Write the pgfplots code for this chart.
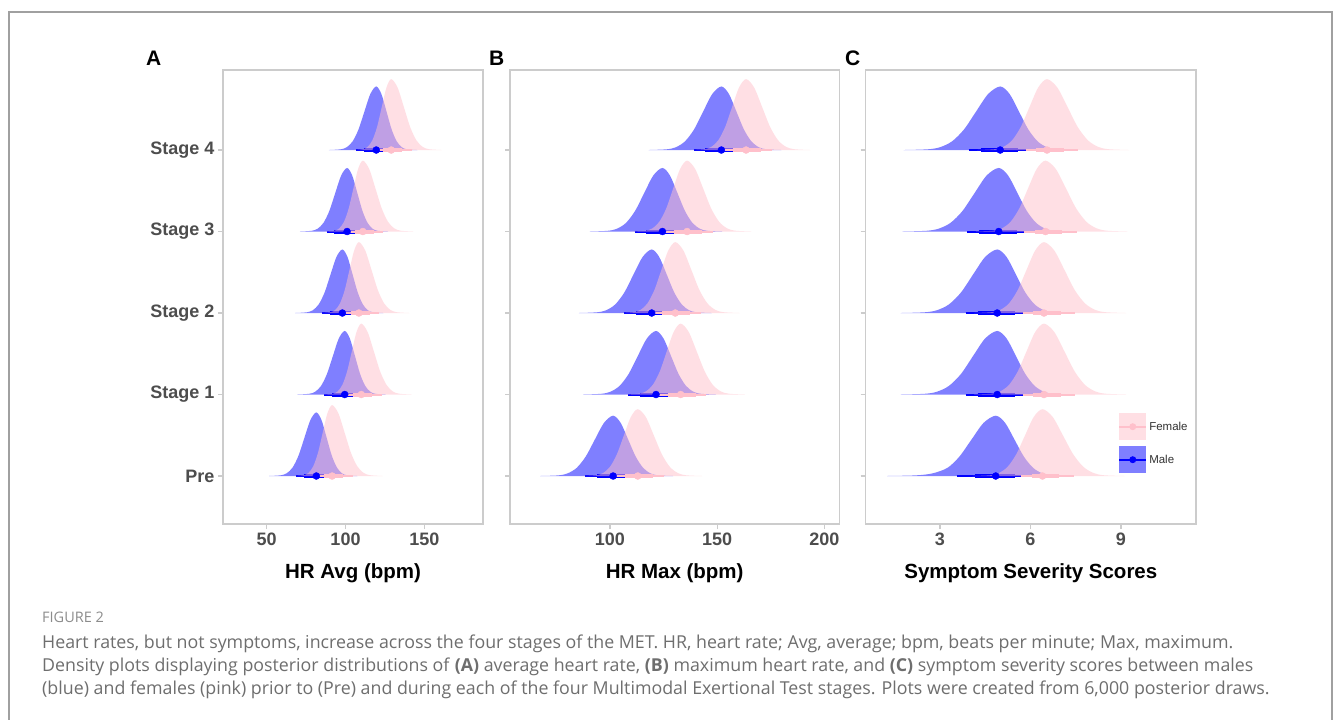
\documentclass[border=0pt]{standalone}
\usepackage{pgfplots}
\pgfplotsset{compat=1.18}
\usepackage{fontspec}
\setmainfont{Liberation Sans}
\newfontfamily\capfont{Open Sans}

\definecolor{femc}{RGB}{255,192,203}
\definecolor{axgray}{RGB}{204,204,204}
\definecolor{labgray}{RGB}{77,77,77}
\definecolor{framegray}{RGB}{160,160,160}
\definecolor{capgray}{RGB}{110,110,110}
\definecolor{figgray}{RGB}{140,140,140}

\pgfplotsset{
  ridge/.style={
    scale only axis, height=454pt,
    ymin=0.411, ymax=5.982,
    ytick={1,2,3,4,5},
    tick align=outside, xtick pos=bottom, ytick pos=left,
    major tick length=5pt,
    axis line style={draw=axgray, line width=1.5pt},
    major tick style={draw=axgray, line width=1.2pt},
    /pgf/number format/assume math mode=true,
    ticklabel style={font=\fontsize{18}{20}\selectfont\bfseries, text=labgray},
    xlabel style={font=\fontsize{20.5}{22}\selectfont\bfseries, text=black,
      at={(axis description cs:0.5,-0.108)}, anchor=center},
  },
  mslab/.style={draw=none, fill=blue, fill opacity=0.5, smooth, tension=0.5, forget plot},
  fslab/.style={draw=none, fill=femc, fill opacity=0.5, smooth, tension=0.5, forget plot},
  mthin/.style={blue, line width=2pt, forget plot},
  mthick/.style={blue, line width=4pt, forget plot},
  mdot/.style={only marks, mark=*, mark size=3.5pt, blue, forget plot},
  fthin/.style={femc, line width=2pt, forget plot},
  fthick/.style={femc, line width=4pt, forget plot},
  fdot/.style={only marks, mark=*, mark size=3.5pt, femc, forget plot},
}

\begin{document}
\begin{tikzpicture}
\useasboundingbox[fill=white] (0pt,0pt) rectangle (1333pt,-720pt);
\draw[framegray, line width=1.5pt] (9pt,-730pt) -- (9pt,-12pt) -- (1332pt,-12pt) -- (1332pt,-730pt);

% ---------------- A: HR Avg
\begin{axis}[ridge, at={(223pt,-524pt)}, anchor=south west, width=260pt,
  xmin=22.3, xmax=187.2, xtick={50,100,150},
  yticklabels={Pre,Stage 1,Stage 2,Stage 3,Stage 4},
  xlabel={HR Avg (bpm)}]
% Stage 4
\addplot[mslab] coordinates {(89.5,5) (97,5.009) (100.75,5.034) (104.5,5.106) (108.25,5.253) (112,5.473) (115.75,5.688) (119.5,5.78) (122.75,5.688) (126,5.473) (129.25,5.253) (132.5,5.106) (135.75,5.034) (139,5.009) (145.5,5)} -- cycle;
\addplot[mthin] coordinates {(106.5,5) (130.5,5)};
\addplot[mthick] coordinates {(111.5,5) (125.5,5)};
\addplot[mdot] coordinates {(119.5,5)};
\addplot[fslab] coordinates {(105,5) (111,5.010) (114,5.038) (117,5.118) (120,5.282) (123,5.528) (126,5.768) (129,5.87) (133,5.768) (137,5.528) (141,5.282) (145,5.118) (149,5.038) (153,5.010) (161,5)} -- cycle;
\addplot[fthin] coordinates {(119,5) (142,5)};
\addplot[fthick] coordinates {(124,5) (136,5)};
\addplot[fdot] coordinates {(129,5)};
% Stage 3
\addplot[mslab] coordinates {(71,4) (78.5,4.009) (82.25,4.034) (86,4.106) (89.75,4.253) (93.5,4.473) (97.25,4.688) (101,4.78) (104.25,4.688) (107.5,4.473) (110.75,4.253) (114,4.106) (117.25,4.034) (120.5,4.009) (127,4)} -- cycle;
\addplot[mthin] coordinates {(88,4) (112,4)};
\addplot[mthick] coordinates {(93,4) (107,4)};
\addplot[mdot] coordinates {(101,4)};
\addplot[fslab] coordinates {(87,4) (93,4.010) (96,4.038) (99,4.118) (102,4.282) (105,4.528) (108,4.768) (111,4.87) (115,4.768) (119,4.528) (123,4.282) (127,4.118) (131,4.038) (135,4.010) (143,4)} -- cycle;
\addplot[fthin] coordinates {(101,4) (124,4)};
\addplot[fthick] coordinates {(106,4) (118,4)};
\addplot[fdot] coordinates {(111,4)};
% Stage 2
\addplot[mslab] coordinates {(68,3) (75.5,3.009) (79.25,3.034) (83,3.106) (86.75,3.253) (90.5,3.473) (94.25,3.688) (98,3.78) (101.25,3.688) (104.5,3.473) (107.75,3.253) (111,3.106) (114.25,3.034) (117.5,3.009) (124,3)} -- cycle;
\addplot[mthin] coordinates {(85,3) (109,3)};
\addplot[mthick] coordinates {(90,3) (104,3)};
\addplot[mdot] coordinates {(98,3)};
\addplot[fslab] coordinates {(84.5,3) (90.5,3.010) (93.5,3.038) (96.5,3.118) (99.5,3.282) (102.5,3.528) (105.5,3.768) (108.5,3.87) (112.5,3.768) (116.5,3.528) (120.5,3.282) (124.5,3.118) (128.5,3.038) (132.5,3.010) (140.5,3)} -- cycle;
\addplot[fthin] coordinates {(98.5,3) (121.5,3)};
\addplot[fthick] coordinates {(103.5,3) (115.5,3)};
\addplot[fdot] coordinates {(108.5,3)};
% Stage 1
\addplot[mslab] coordinates {(69.5,2) (77,2.009) (80.75,2.034) (84.5,2.106) (88.25,2.253) (92,2.473) (95.75,2.688) (99.5,2.78) (102.75,2.688) (106,2.473) (109.25,2.253) (112.5,2.106) (115.75,2.034) (119,2.009) (125.5,2)} -- cycle;
\addplot[mthin] coordinates {(86.5,2) (110.5,2)};
\addplot[mthick] coordinates {(91.5,2) (105.5,2)};
\addplot[mdot] coordinates {(99.5,2)};
\addplot[fslab] coordinates {(86,2) (92,2.010) (95,2.038) (98,2.118) (101,2.282) (104,2.528) (107,2.768) (110,2.87) (114,2.768) (118,2.528) (122,2.282) (126,2.118) (130,2.038) (134,2.010) (142,2)} -- cycle;
\addplot[fthin] coordinates {(100,2) (123,2)};
\addplot[fthick] coordinates {(105,2) (117,2)};
\addplot[fdot] coordinates {(110,2)};
% Pre
\addplot[mslab] coordinates {(51.5,1) (59,1.009) (62.75,1.034) (66.5,1.106) (70.25,1.253) (74,1.473) (77.75,1.688) (81.5,1.78) (84.75,1.688) (88,1.473) (91.25,1.253) (94.5,1.106) (97.75,1.034) (101,1.009) (107.5,1)} -- cycle;
\addplot[mthin] coordinates {(68.5,1) (92.5,1)};
\addplot[mthick] coordinates {(73.5,1) (87.5,1)};
\addplot[mdot] coordinates {(81.5,1)};
\addplot[fslab] coordinates {(67.5,1) (73.5,1.010) (76.5,1.038) (79.5,1.118) (82.5,1.282) (85.5,1.528) (88.5,1.768) (91.5,1.87) (95.5,1.768) (99.5,1.528) (103.5,1.282) (107.5,1.118) (111.5,1.038) (115.5,1.010) (123.5,1)} -- cycle;
\addplot[fthin] coordinates {(81.5,1) (104.5,1)};
\addplot[fthick] coordinates {(86.5,1) (98.5,1)};
\addplot[fdot] coordinates {(91.5,1)};
\end{axis}

% ---------------- B: HR Max
\begin{axis}[ridge, at={(510pt,-524pt)}, anchor=south west, width=329.3pt,
  xmin=53.4, xmax=207, xtick={100,150,200}, yticklabels={},
  xlabel={HR Max (bpm)}]
% Stage 4
\addplot[mslab] coordinates {(118,5) (126.5,5.009) (130.75,5.034) (135,5.106) (139.25,5.253) (143.5,5.473) (147.75,5.688) (152,5.78) (155.5,5.688) (159,5.473) (162.5,5.253) (166,5.106) (169.5,5.034) (173,5.009) (180,5)} -- cycle;
\addplot[mthin] coordinates {(139,5) (164,5)};
\addplot[mthick] coordinates {(144.5,5) (159,5)};
\addplot[mdot] coordinates {(152,5)};
\addplot[fslab] coordinates {(137.5,5) (144,5.010) (147.25,5.038) (150.5,5.118) (153.75,5.282) (157,5.528) (160.25,5.768) (163.5,5.87) (167.25,5.768) (171,5.528) (174.75,5.282) (178.5,5.118) (182.25,5.038) (186,5.010) (193.5,5)} -- cycle;
\addplot[fthin] coordinates {(152.5,5) (175.5,5)};
\addplot[fthick] coordinates {(157.5,5) (170.5,5)};
\addplot[fdot] coordinates {(163.5,5)};
% Stage 3
\addplot[mslab] coordinates {(90.5,4) (99,4.009) (103.25,4.034) (107.5,4.106) (111.75,4.253) (116,4.473) (120.25,4.688) (124.5,4.78) (128,4.688) (131.5,4.473) (135,4.253) (138.5,4.106) (142,4.034) (145.5,4.009) (152.5,4)} -- cycle;
\addplot[mthin] coordinates {(111.5,4) (136.5,4)};
\addplot[mthick] coordinates {(117,4) (131.5,4)};
\addplot[mdot] coordinates {(124.5,4)};
\addplot[fslab] coordinates {(110,4) (116.5,4.010) (119.75,4.038) (123,4.118) (126.25,4.282) (129.5,4.528) (132.75,4.768) (136,4.87) (139.75,4.768) (143.5,4.528) (147.25,4.282) (151,4.118) (154.75,4.038) (158.5,4.010) (166,4)} -- cycle;
\addplot[fthin] coordinates {(125,4) (148,4)};
\addplot[fthick] coordinates {(130,4) (143,4)};
\addplot[fdot] coordinates {(136,4)};
% Stage 2
\addplot[mslab] coordinates {(85.5,3) (94,3.009) (98.25,3.034) (102.5,3.106) (106.75,3.253) (111,3.473) (115.25,3.688) (119.5,3.78) (123,3.688) (126.5,3.473) (130,3.253) (133.5,3.106) (137,3.034) (140.5,3.009) (147.5,3)} -- cycle;
\addplot[mthin] coordinates {(106.5,3) (131.5,3)};
\addplot[mthick] coordinates {(112,3) (126.5,3)};
\addplot[mdot] coordinates {(119.5,3)};
\addplot[fslab] coordinates {(104.5,3) (111,3.010) (114.25,3.038) (117.5,3.118) (120.75,3.282) (124,3.528) (127.25,3.768) (130.5,3.87) (134.25,3.768) (138,3.528) (141.75,3.282) (145.5,3.118) (149.25,3.038) (153,3.010) (160.5,3)} -- cycle;
\addplot[fthin] coordinates {(119.5,3) (142.5,3)};
\addplot[fthick] coordinates {(124.5,3) (137.5,3)};
\addplot[fdot] coordinates {(130.5,3)};
% Stage 1
\addplot[mslab] coordinates {(87.5,2) (96,2.009) (100.25,2.034) (104.5,2.106) (108.75,2.253) (113,2.473) (117.25,2.688) (121.5,2.78) (125,2.688) (128.5,2.473) (132,2.253) (135.5,2.106) (139,2.034) (142.5,2.009) (149.5,2)} -- cycle;
\addplot[mthin] coordinates {(108.5,2) (133.5,2)};
\addplot[mthick] coordinates {(114,2) (128.5,2)};
\addplot[mdot] coordinates {(121.5,2)};
\addplot[fslab] coordinates {(107,2) (113.5,2.010) (116.75,2.038) (120,2.118) (123.25,2.282) (126.5,2.528) (129.75,2.768) (133,2.87) (136.75,2.768) (140.5,2.528) (144.25,2.282) (148,2.118) (151.75,2.038) (155.5,2.010) (163,2)} -- cycle;
\addplot[fthin] coordinates {(122,2) (145,2)};
\addplot[fthick] coordinates {(127,2) (140,2)};
\addplot[fdot] coordinates {(133,2)};
% Pre
\addplot[mslab] coordinates {(67.5,1) (76,1.008) (80.25,1.032) (84.5,1.100) (88.75,1.240) (93,1.449) (97.25,1.653) (101.5,1.74) (105,1.653) (108.5,1.449) (112,1.240) (115.5,1.100) (119,1.032) (122.5,1.008) (129.5,1)} -- cycle;
\addplot[mthin] coordinates {(88.5,1) (113.5,1)};
\addplot[mthick] coordinates {(94,1) (108.5,1)};
\addplot[mdot] coordinates {(101.5,1)};
\addplot[fslab] coordinates {(87,1) (93.5,1.009) (96.75,1.036) (100,1.111) (103.25,1.266) (106.5,1.497) (109.75,1.724) (113,1.82) (116.75,1.724) (120.5,1.497) (124.25,1.266) (128,1.111) (131.75,1.036) (135.5,1.009) (143,1)} -- cycle;
\addplot[fthin] coordinates {(102,1) (125,1)};
\addplot[fthick] coordinates {(107,1) (120,1)};
\addplot[fdot] coordinates {(113,1)};
\end{axis}

% ---------------- C: Symptom severity
\begin{axis}[ridge, at={(865.7pt,-524pt)}, anchor=south west, width=330.3pt,
  xmin=0.54, xmax=11.49, xtick={3,6,9}, yticklabels={},
  xlabel={Symptom Severity Scores},
  legend style={at={(0.764,0.2445)}, anchor=north west, draw=none, fill=none,
    inner sep=0pt, row sep=6pt, font=\fontsize{11.5}{13}\selectfont,
    text=black!80, nodes={inner sep=2pt}},
  legend cell align=left]
\addlegendimage{legend image code/.code={
  \path[draw=none, fill=femc, fill opacity=0.5] (0pt,-13.5pt) rectangle (27pt,13.5pt);
  \path[draw=femc, line width=2pt] (0pt,0pt) -- (27pt,0pt);
  \path[draw=none, fill=femc] (13.5pt,0pt) circle (3.5pt);}}
\addlegendentry{Female}
\addlegendimage{legend image code/.code={
  \path[draw=none, fill=blue, fill opacity=0.5] (0pt,-13.5pt) rectangle (27pt,13.5pt);
  \path[draw=blue, line width=2pt] (0pt,0pt) -- (27pt,0pt);
  \path[draw=none, fill=blue] (13.5pt,0pt) circle (3.5pt);}}
\addlegendentry{Male}
% Stage 4
\addplot[mslab] coordinates {(1.8,5) (2.6,5.009) (3.0,5.034) (3.4,5.106) (3.8,5.253) (4.2,5.473) (4.6,5.688) (5.0,5.78) (5.31,5.688) (5.62,5.473) (5.93,5.253) (6.24,5.106) (6.55,5.034) (6.86,5.009) (7.48,5)} -- cycle;
\addplot[mthin] coordinates {(3.95,5) (6.0,5)};
\addplot[mthick] coordinates {(4.35,5) (5.6,5)};
\addplot[mdot] coordinates {(5.0,5)};
\addplot[fslab] coordinates {(4.23,5) (4.81,5.010) (5.1,5.038) (5.39,5.118) (5.68,5.282) (5.97,5.528) (6.26,5.768) (6.55,5.87) (6.89,5.768) (7.23,5.528) (7.57,5.282) (7.91,5.118) (8.25,5.038) (8.59,5.010) (9.27,5)} -- cycle;
\addplot[fthin] coordinates {(5.85,5) (7.58,5)};
\addplot[fthick] coordinates {(6.2,5) (7.1,5)};
\addplot[fdot] coordinates {(6.55,5)};
% Stage 3
\addplot[mslab] coordinates {(1.75,4) (2.55,4.009) (2.95,4.034) (3.35,4.106) (3.75,4.253) (4.15,4.473) (4.55,4.688) (4.95,4.78) (5.26,4.688) (5.57,4.473) (5.88,4.253) (6.19,4.106) (6.5,4.034) (6.81,4.009) (7.43,4)} -- cycle;
\addplot[mthin] coordinates {(3.9,4) (5.95,4)};
\addplot[mthick] coordinates {(4.3,4) (5.55,4)};
\addplot[mdot] coordinates {(4.95,4)};
\addplot[fslab] coordinates {(4.18,4) (4.76,4.010) (5.05,4.038) (5.34,4.118) (5.63,4.282) (5.92,4.528) (6.21,4.768) (6.5,4.87) (6.84,4.768) (7.18,4.528) (7.52,4.282) (7.86,4.118) (8.2,4.038) (8.54,4.010) (9.22,4)} -- cycle;
\addplot[fthin] coordinates {(5.8,4) (7.53,4)};
\addplot[fthick] coordinates {(6.15,4) (7.05,4)};
\addplot[fdot] coordinates {(6.5,4)};
% Stage 2
\addplot[mslab] coordinates {(1.7,3) (2.5,3.009) (2.9,3.034) (3.3,3.106) (3.7,3.253) (4.1,3.473) (4.5,3.688) (4.9,3.78) (5.21,3.688) (5.52,3.473) (5.83,3.253) (6.14,3.106) (6.45,3.034) (6.76,3.009) (7.38,3)} -- cycle;
\addplot[mthin] coordinates {(3.85,3) (5.9,3)};
\addplot[mthick] coordinates {(4.25,3) (5.5,3)};
\addplot[mdot] coordinates {(4.9,3)};
\addplot[fslab] coordinates {(4.13,3) (4.71,3.010) (5.0,3.038) (5.29,3.118) (5.58,3.282) (5.87,3.528) (6.16,3.768) (6.45,3.87) (6.79,3.768) (7.13,3.528) (7.47,3.282) (7.81,3.118) (8.15,3.038) (8.49,3.010) (9.17,3)} -- cycle;
\addplot[fthin] coordinates {(5.75,3) (7.48,3)};
\addplot[fthick] coordinates {(6.1,3) (7.0,3)};
\addplot[fdot] coordinates {(6.45,3)};
% Stage 1
\addplot[mslab] coordinates {(1.7,2) (2.5,2.009) (2.9,2.034) (3.3,2.106) (3.7,2.253) (4.1,2.473) (4.5,2.688) (4.9,2.78) (5.21,2.688) (5.52,2.473) (5.83,2.253) (6.14,2.106) (6.45,2.034) (6.76,2.009) (7.38,2)} -- cycle;
\addplot[mthin] coordinates {(3.85,2) (5.9,2)};
\addplot[mthick] coordinates {(4.25,2) (5.5,2)};
\addplot[mdot] coordinates {(4.9,2)};
\addplot[fslab] coordinates {(4.13,2) (4.71,2.010) (5.0,2.038) (5.29,2.118) (5.58,2.282) (5.87,2.528) (6.16,2.768) (6.45,2.87) (6.79,2.768) (7.13,2.528) (7.47,2.282) (7.81,2.118) (8.15,2.038) (8.49,2.010) (9.17,2)} -- cycle;
\addplot[fthin] coordinates {(5.75,2) (7.48,2)};
\addplot[fthick] coordinates {(6.1,2) (7.0,2)};
\addplot[fdot] coordinates {(6.45,2)};
% Pre
\addplot[mslab] coordinates {(1.25,1) (2.2,1.008) (2.75,1.032) (3.25,1.100) (3.65,1.240) (4.05,1.449) (4.45,1.653) (4.85,1.74) (5.16,1.653) (5.47,1.449) (5.78,1.240) (6.09,1.100) (6.4,1.032) (6.71,1.008) (7.33,1)} -- cycle;
\addplot[mthin] coordinates {(3.55,1) (5.85,1)};
\addplot[mthick] coordinates {(4.15,1) (5.5,1)};
\addplot[mdot] coordinates {(4.85,1)};
\addplot[fslab] coordinates {(4.08,1) (4.66,1.009) (4.95,1.036) (5.24,1.111) (5.53,1.266) (5.82,1.497) (6.11,1.724) (6.4,1.82) (6.74,1.724) (7.08,1.497) (7.42,1.266) (7.76,1.111) (8.1,1.036) (8.44,1.009) (9.12,1)} -- cycle;
\addplot[fthin] coordinates {(5.7,1) (7.43,1)};
\addplot[fthick] coordinates {(6.05,1) (6.95,1)};
\addplot[fdot] coordinates {(6.4,1)};
\end{axis}

% panel letters
\node[anchor=base west, font=\fontsize{21}{22}\selectfont\bfseries, inner sep=0pt] at (146pt,-65pt) {A};
\node[anchor=base west, font=\fontsize{21}{22}\selectfont\bfseries, inner sep=0pt] at (489pt,-65pt) {B};
\node[anchor=base west, font=\fontsize{21}{22}\selectfont\bfseries, inner sep=0pt] at (845pt,-65pt) {C};

% caption
\node[anchor=base west, inner sep=0pt, text=figgray, font=\capfont\fontsize{14.5}{16}\selectfont] at (42pt,-622pt) {FIGURE 2};
\begin{scope}[every node/.style={anchor=base west, inner sep=0pt, text=capgray, font=\capfont\fontsize{17.8}{19}\selectfont}]
\node at (42pt,-648pt) {Heart rates, but not symptoms, increase across the four stages of the MET. HR, heart rate; Avg, average; bpm, beats per minute; Max, maximum.};
\node at (42pt,-671pt) {Density plots displaying posterior distributions of \textbf{(A)} average heart rate, \textbf{(B)} maximum heart rate, and \textbf{(C)} symptom severity scores between males};
\node at (42pt,-694pt) {(blue) and females (pink) prior to (Pre) and during each of the four Multimodal Exertional Test stages. Plots were created from 6,000 posterior draws.};
\end{scope}
\end{tikzpicture}
\end{document}
